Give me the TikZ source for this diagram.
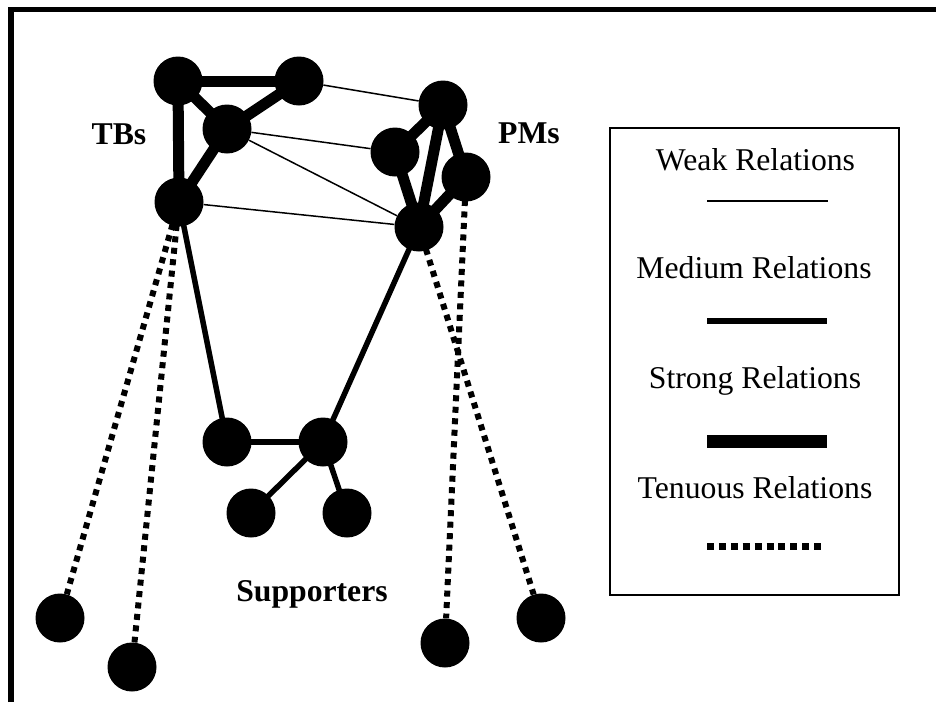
\documentclass[tikz,border=0pt]{standalone}
\usepackage{fontspec}
\setmainfont{Liberation Serif}
\begin{document}
\begin{tikzpicture}[x=1pt,y=-1pt,
        actor/.style={circle,fill=black,minimum size=49pt,inner sep=0pt},
        lbl/.style={font=\fontsize{31.7}{38}\selectfont\bfseries,anchor=base,inner sep=0pt},
        keytext/.style={font=\fontsize{31.7}{38}\selectfont,anchor=base,inner sep=0pt},
        weak/.style={line width=1.5pt},
        medium/.style={line width=5.5pt},
        strong/.style={line width=11pt},
        tenuous/.style={line width=6pt,dash pattern=on 6pt off 5.5pt}]
        \useasboundingbox (0,0) rectangle (936,702);
        \draw[line width=5.5pt] (11,702) -- (11,9.5) -- (936,9.5);
        % TBs
        \node[actor] (t1) at (178,81) {};
        \node[actor] (t2) at (299,81) {};
        \node[actor] (t3) at (227,129) {};
        \node[actor] (t4) at (179,202) {};
        % PMs
        \node[actor] (p1) at (443,105) {};
        \node[actor] (p2) at (395,152) {};
        \node[actor] (p3) at (466,177) {};
        \node[actor] (p4) at (419,227) {};
        % supporters
        \node[actor] (s1) at (227,442) {};
        \node[actor] (s2) at (323,442) {};
        \node[actor] (s3) at (251,513) {};
        \node[actor] (s4) at (347,513) {};
        \node[actor] (b1) at (60,618) {};
        \node[actor] (b2) at (132,667) {};
        \node[actor] (b3) at (445,643) {};
        \node[actor] (b4) at (541,618) {};
        \node[lbl] (tbs) at (119,144) {TBs};
        \node[lbl] (pms) at (529,143) {PMs};
        \node[lbl] (sup) at (312,601) {Supporters};
        % relations
        \draw[strong] (t1.center) -- (t2.center);
        \draw[strong] (t1.center) -- (t4.center);
        \draw[strong] (t1.center) -- (t3.center);
        \draw[strong] (t3.center) -- (t2.center);
        \draw[strong] (t3.center) -- (t4.center);
        \draw[strong] (p1.center) -- (p2.center);
        \draw[strong] (p1.center) -- (p4.center);
        \draw[strong] (p1.center) -- (p3.center);
        \draw[strong] (p2.center) -- (p4.center);
        \draw[strong] (p3.center) -- (p4.center);
        \draw[weak] (t2) -- (p1);
        \draw[weak] (t3) -- (p2);
        \draw[weak] (t3) -- (p4);
        \draw[weak] (t4) -- (p4);
        \draw[medium] (t4.center) -- (s1.center);
        \draw[medium] (p4.center) -- (s2.center);
        \draw[medium] (s1.center) -- (s2.center);
        \draw[medium] (s2.center) -- (s3.center);
        \draw[medium] (s2.center) -- (s4.center);
        \draw[tenuous] (t4.center) -- (b1);
        \draw[tenuous] (t4.center) -- (b2);
        \draw[tenuous] (p3.center) -- (b3);
        \draw[tenuous] (p4.center) -- (b4);
        % key
        \node[draw,line width=1.2pt,minimum width=289pt,minimum height=467pt,inner sep=0pt] (key) at (754.5,361.5) {};
        \node[keytext] (kweak) at (755.5,170) {Weak Relations};
        \coordinate (w1) at (707,201);
        \coordinate (w2) at (828,201);
        \draw[weak] (w1) -- (w2);
        \node[keytext] (kmed) at (754,278) {Medium Relations};
        \coordinate (m1) at (707,321);
        \coordinate (m2) at (827,321);
        \draw[medium] (m1) -- (m2);
        \node[keytext] (kstr) at (755,388) {Strong Relations};
        \coordinate (st1) at (707,441);
        \coordinate (st2) at (827,441);
        \draw[line width=13pt] (st1) -- (st2);
        \node[keytext] (kten) at (755,498) {Tenuous Relations};
        \coordinate (tn1) at (707,546);
        \coordinate (tn2) at (821,546);
        \draw[line width=7pt,dash pattern=on 7pt off 4.9pt] (tn1) -- (tn2);
\end{tikzpicture}
\end{document}
